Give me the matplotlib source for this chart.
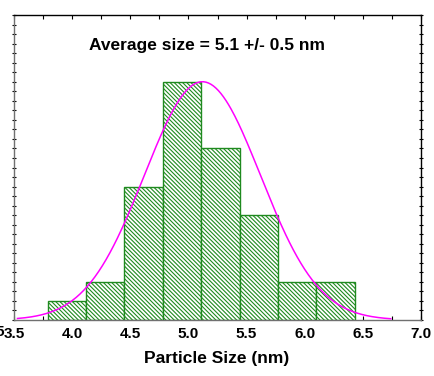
import numpy as np
import matplotlib
matplotlib.use("Agg")
import matplotlib.pyplot as plt
from matplotlib.ticker import MultipleLocator

plt.rcParams['font.family'] = ['Liberation Sans', 'DejaVu Sans']
plt.rcParams['hatch.linewidth'] = 0.8

# histogram of particle sizes (nm)
bin_edges = [3.79, 4.12, 4.45, 4.78, 5.11, 5.44, 5.77, 6.10, 6.43]
counts = [2, 4, 14, 25, 18, 11, 4, 4]

# gaussian fit
fit_mu = 5.12
fit_sigma = 0.50
fit_amp = 25.0
fit_range = (3.53, 6.74)

title_text = "Average size = 5.1 +/- 0.5 nm"
xlabel_text = "Particle Size (nm)"
xticks = [3.5, 4.0, 4.5, 5.0, 5.5, 6.0, 6.5, 7.0]

green = '#1f8a1f'

fig = plt.figure(figsize=(4.34, 3.76), dpi=100)
ax = fig.add_axes([14/434, 56/376, 407/434, 305/376])

widths = np.diff(bin_edges)
ax.bar(bin_edges[:-1], counts, width=widths, align='edge',
       facecolor='white', edgecolor=green, hatch='\\' * 8, linewidth=1.0, zorder=2)

xf = np.linspace(fit_range[0], fit_range[1], 300)
yf = fit_amp * np.exp(-(xf - fit_mu) ** 2 / (2 * fit_sigma ** 2))
ax.plot(xf, yf, color='#ff00ff', lw=1.1, zorder=3)

ax.set_xlim(3.5, 7.0)
ax.set_ylim(0, 32)
ax.set_xticks(xticks)
ax.set_xticklabels(['%.1f' % t for t in xticks], fontsize=11, fontweight='bold')
ax.xaxis.set_minor_locator(MultipleLocator(0.25))
ax.yaxis.set_major_locator(MultipleLocator(1))
ax.set_yticklabels([])
ax.tick_params(axis='x', which='both', direction='in', top=True, length=3, width=0.8, pad=5)
ax.tick_params(axis='y', which='both', direction='inout', right=True, length=3, width=0.8)

for side in ['left', 'bottom']:
    ax.spines[side].set_color('#707070')
for side in ['top', 'right']:
    ax.spines[side].set_color('black')
for s in ax.spines.values():
    s.set_linewidth(1.0)

ax.text(0.475, 0.9, title_text, transform=ax.transAxes, ha='center', va='center',
        fontsize=12.5, fontweight='bold')
fig.text(217/434, 1 - 358/376, xlabel_text, ha='center', va='center',
         fontsize=12.5, fontweight='bold')
# stray clipped label at the far left
fig.text(3.5/434, 1 - 332/376, '5', ha='right', va='center', fontsize=11, fontweight='bold')

fig.savefig('out.png', dpi=100)
